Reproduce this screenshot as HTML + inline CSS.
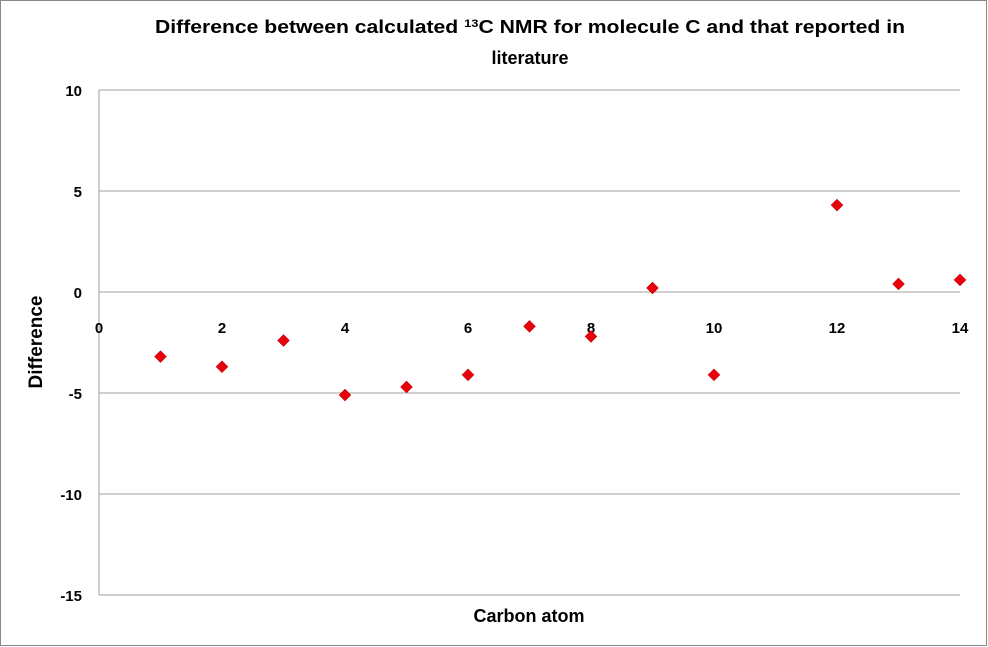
<!DOCTYPE html>
<html><head><meta charset="utf-8"><style>
body{margin:0;background:#fff;}
svg{display:block;font-family:"Liberation Sans",sans-serif;}
</style></head><body>
<svg id="chart" width="988" height="647">
<rect x="0.5" y="0.5" width="986" height="645" fill="#fff" stroke="#888"/>
<text x="530" y="33" text-anchor="middle" font-size="18" font-weight="bold" textLength="750" lengthAdjust="spacingAndGlyphs">Difference between calculated <tspan font-size="11" dy="-6">13</tspan><tspan dy="6">C NMR for molecule C and that reported in</tspan></text>
<text x="530" y="64" text-anchor="middle" font-size="18" font-weight="bold">literature</text>
<g id="grid"></g>
<g id="yticks"></g>
<g id="xticks"></g>
<g id="points"></g>
<text x="529" y="622" text-anchor="middle" font-size="18" font-weight="bold">Carbon atom</text>
<text transform="translate(42,342) rotate(-90)" text-anchor="middle" font-size="19" font-weight="bold">Difference</text>
</svg>
<script>
const carbonAtoms=[1,2,3,4,5,6,7,8,9,10,12,13,14];
const differences=[-3.2,-3.7,-2.4,-5.1,-4.7,-4.1,-1.7,-2.2,0.2,-4.1,4.3,0.4,0.6];
const yTickValues=[10,5,0,-5,-10,-15];
const xTickValues=[0,2,4,6,8,10,12,14];
const NS="http://www.w3.org/2000/svg";
const x=v=>99+v*(960-99)/14;
const y=v=>292-v*(595-90)/25;
function mk(tag,attrs,parent){const e=document.createElementNS(NS,tag);for(const k in attrs)e.setAttribute(k,attrs[k]);parent.appendChild(e);return e;}
const grid=document.getElementById('grid'),yt=document.getElementById('yticks'),xt=document.getElementById('xticks'),pts=document.getElementById('points');
yTickValues.forEach(v=>{
 const l=mk('line',{x1:99,x2:960,y1:y(v),y2:y(v),stroke:'#a0a0a0','stroke-width':1},grid);
 
 
 const t=mk('text',{x:82,y:y(v)+6,'text-anchor':'end','font-size':15,'font-weight':'bold'},yt);
 t.textContent=v;
 
 
});
const ax=mk('line',{x1:99,x2:99,y1:90,y2:595,stroke:'#a0a0a0','stroke-width':1},grid);


xTickValues.forEach(v=>{
 const t=mk('text',{x:x(v),y:y(0)+41,'text-anchor':'middle','font-size':15,'font-weight':'bold'},xt);
 t.textContent=v;
 
 
});
carbonAtoms.forEach((c,i)=>{
 const cx=x(c),cy=y(differences[i]);
 const p=mk('polygon',{points:`${cx},${cy-6} ${cx+6},${cy} ${cx},${cy+6} ${cx-6},${cy}`,fill:'#e8000b',stroke:'#b00000','stroke-width':0.5},pts);
 
 
});
</script>
</body></html>
